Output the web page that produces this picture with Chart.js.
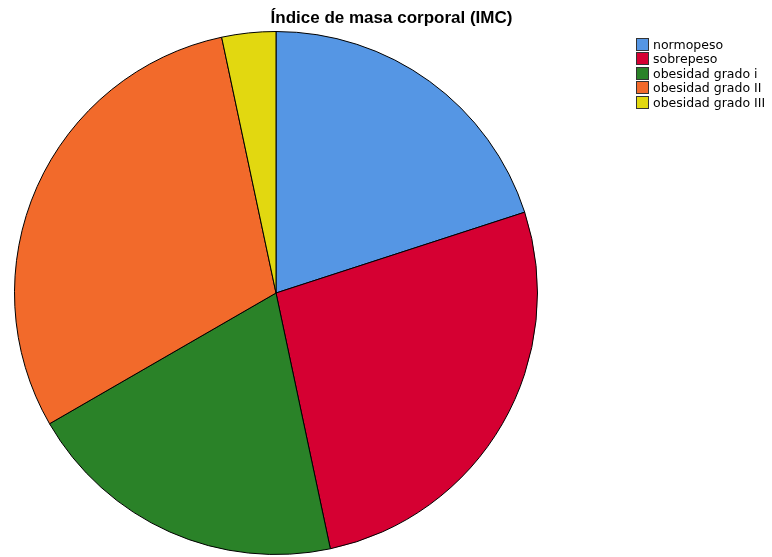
<!DOCTYPE html>
<html>
<head>
<meta charset="utf-8">
<script src="https://cdn.jsdelivr.net/npm/chart.js@4"></script>
<style>
html,body{margin:0;padding:0;background:#fff;}
#wrap{position:relative;width:772px;height:557px;}
canvas{position:absolute;left:0;top:0;}
#title{position:absolute;top:9px;left:0;width:783px;text-align:center;font:bold 17px/17px "Liberation Sans",Arial,sans-serif;color:#000;}
#legend{position:absolute;left:636px;top:37px;font:12.5px "DejaVu Sans",sans-serif;color:#000;}
.item{height:14.5px;display:flex;align-items:center;white-space:nowrap;}
.box{width:13px;height:13px;border:1px solid #333;box-sizing:border-box;margin-right:4px;}
</style>
</head>
<body>
<div id="wrap">
<canvas id="c" width="772" height="557"></canvas>
<div id="title"></div>
<div id="legend"></div>
</div>
<script>
const chartTitle = "Índice de masa corporal (IMC)";
const categories = ["normopeso", "sobrepeso", "obesidad grado i", "obesidad grado II", "obesidad grado III"];
const counts = [6, 8, 6, 9, 1];
const colors = ["#5596E4", "#D50032", "#2A8228", "#F26A2B", "#E2D810"];

document.getElementById('title').textContent = chartTitle;
const leg = document.getElementById('legend');
categories.forEach((c, i) => {
  const d = document.createElement('div'); d.className = 'item';
  const b = document.createElement('div'); b.className = 'box'; b.style.background = colors[i];
  const t = document.createElement('span'); t.textContent = c;
  d.appendChild(b); d.appendChild(t); leg.appendChild(d);
});

new Chart(document.getElementById('c'), {
  type: 'pie',
  data: {
    labels: categories,
    datasets: [{
      data: counts,
      backgroundColor: colors,
      borderColor: '#000',
      borderWidth: 1
    }]
  },
  options: {
    responsive: false,
    animation: false,
    layout: { padding: { left: 14, top: 31, right: 234, bottom: 2 } },
    plugins: { legend: { display: false }, title: { display: false }, tooltip: { enabled: false } }
  }
});
</script>
</body>
</html>
